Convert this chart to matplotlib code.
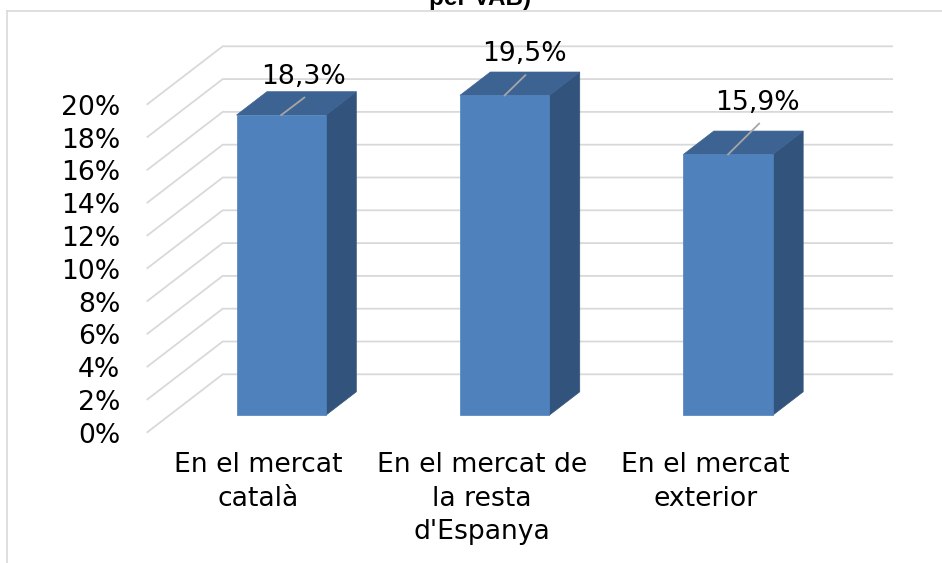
import matplotlib
matplotlib.use("Agg")
import matplotlib.pyplot as plt
from matplotlib.patches import Polygon
from matplotlib.lines import Line2D

# ---------------- data ----------------
categories = ["En el mercat\ncatalà", "En el mercat de\nla resta\nd'Espanya", "En el mercat\nexterior"]
values = [18.3, 19.5, 15.9]
value_labels = ["18,3%", "19,5%", "15,9%"]
yticks = [0, 2, 4, 6, 8, 10, 12, 14, 16, 18, 20]
ytick_labels = ["0%", "2%", "4%", "6%", "8%", "10%", "12%", "14%", "16%", "18%", "20%"]
title_tail = "per VAB)"

# ---------------- layout / style ----------------
W, H = 942, 563
X_LEFT, X_RIGHT = 146.7, 817.0      # front plane, pixels
Y_ZERO = 432.7                      # 0% front, pixels from top
PCT_PX = 16.4                       # pixels per percentage point
CAT_PX = (X_RIGHT - X_LEFT) / 3
DEPTH_PX = (76.0, 58.4)             # oblique depth offset (right, up)
BAR_DEPTH = (0.3, 0.7)
BAR_W = 0.4
label_offsets_px = [(21.8, 41.0), (19.4, 43.7), (29.7, 54.3)]  # label centre rel. to bar top

FONT = ["DejaVu Sans"]
FS = 19.2
GRID_C = "#D9D9D9"
FRONT_C, TOP_C, SIDE_C = "#4F81BD", "#3D6392", "#32547C"

fig = plt.figure(figsize=(W / 100, H / 100), dpi=100)
YMAX = 22
ax = fig.add_axes([X_LEFT / W, (H - Y_ZERO) / H, (X_RIGHT - X_LEFT) / W, YMAX * PCT_PX / H])
ax.set_xlim(-0.5, 2.5)
ax.set_ylim(0, YMAX)
for s in ax.spines.values():
    s.set_visible(False)
ax.patch.set_visible(False)

DX = DEPTH_PX[0] / CAT_PX
DY = DEPTH_PX[1] / PCT_PX

# gridlines: left wall diagonals + back wall horizontals
for v in yticks:
    ax.plot([-0.5, -0.5 + DX, 2.5 + DX], [v, v + DY, v + DY], color=GRID_C, lw=1.3,
            clip_on=False, zorder=1, solid_capstyle="butt")

# axis ticks / labels
ax.set_yticks(yticks)
ax.set_yticklabels(ytick_labels, family=FONT, fontsize=FS)
ax.set_xticks(range(len(categories)))
ax.set_xticklabels(categories, family=FONT, fontsize=FS, linespacing=1.38)
ax.tick_params(axis="y", length=0, pad=19)
ax.tick_params(axis="x", length=0, pad=14)

# 3D bars
d0x, d0y = BAR_DEPTH[0] * DX, BAR_DEPTH[0] * DY
d1x, d1y = BAR_DEPTH[1] * DX, BAR_DEPTH[1] * DY
for i, v in enumerate(values):
    x0 = i - BAR_W / 2
    x1 = i + BAR_W / 2
    front = [(x0 + d0x, d0y), (x1 + d0x, d0y), (x1 + d0x, v + d0y), (x0 + d0x, v + d0y)]
    top = [(x0 + d0x, v + d0y), (x1 + d0x, v + d0y), (x1 + d1x, v + d1y), (x0 + d1x, v + d1y)]
    side = [(x1 + d0x, d0y), (x1 + d1x, d1y), (x1 + d1x, v + d1y), (x1 + d0x, v + d0y)]
    for poly, c in ((side, SIDE_C), (top, TOP_C), (front, FRONT_C)):
        ax.add_patch(Polygon(poly, closed=True, facecolor=c, edgecolor=c, lw=0.5,
                             clip_on=False, zorder=3))
    # value label + leader line
    ox, oy = label_offsets_px[i]
    sx, sy = i + d0x, v + d0y
    lx, ly = sx + ox / CAT_PX, sy + oy / PCT_PX
    ax.plot([sx, lx + 1.3 / CAT_PX], [sy, ly - 23.5 / PCT_PX], color="#A6A6A6", lw=1.3,
            clip_on=False, zorder=4)
    ax.text(lx, ly - 9.5 / PCT_PX, value_labels[i], ha="center", va="baseline",
            family=FONT, fontsize=FS, color="black", zorder=5)

# chart frame (partially visible) and clipped title
fig.add_artist(Line2D([7.3 / W, 7.3 / W], [0, 1 - 11 / H], transform=fig.transFigure,
                      color=GRID_C, lw=1.2))
fig.add_artist(Line2D([7.3 / W, 1], [1 - 11 / H, 1 - 11 / H], transform=fig.transFigure,
                      color=GRID_C, lw=1.2))
fig.text(480 / W, 1 - 5 / H, title_tail, ha="center", va="baseline",
         family=["Liberation Sans", "DejaVu Sans"], fontweight="bold", fontsize=17.5)

fig.savefig("out.png", dpi=100)
